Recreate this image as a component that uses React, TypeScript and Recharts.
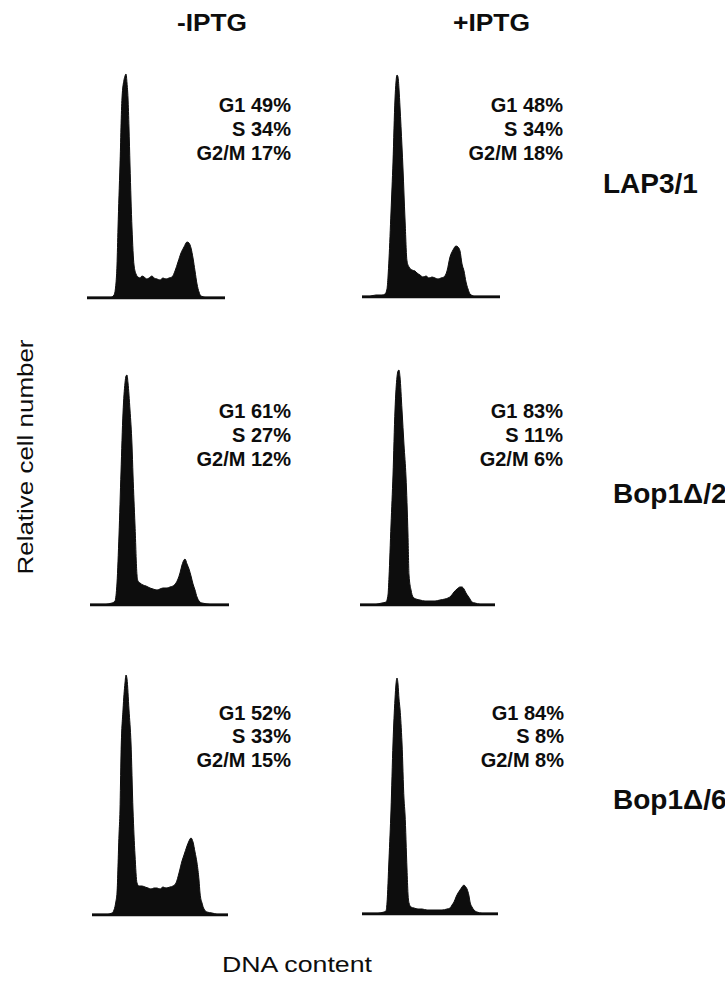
import React from "react";
import { AreaChart, Area, XAxis, YAxis, ReferenceLine } from "recharts";

// ---- labels ----
const columnLabels = ["-IPTG", "+IPTG"];
const rowLabels = ["LAP3/1", "Bop1\u0394/2", "Bop1\u0394/6"];
const phaseNames = ["G1", "S", "G2/M"];
const yAxisTitle = "Relative cell number";
const xAxisTitle = "DNA content";

// ---- cell-cycle percentages (G1, S, G2/M) ----
const lap3MinusPct = [49, 34, 17];
const lap3PlusPct = [48, 34, 18];
const bop2MinusPct = [61, 27, 12];
const bop2PlusPct = [83, 11, 6];
const bop6MinusPct = [52, 33, 15];
const bop6PlusPct = [84, 8, 8];

// ---- histograms: [DNA content channel, relative cell number] ----
const lap3MinusHist: [number, number][] = [
  [0, 1], [8, 1], [16, 1], [24, 1], [27, 3], [29, 15], [30, 33], [31, 70], [33, 133],
  [35, 200], [37, 218], [38, 222], [39, 224], [40, 215], [41, 200], [42, 170], [43, 133],
  [45, 70], [47, 33], [49, 24], [51, 21], [53, 20], [55, 22], [57, 21], [60, 19], [62, 20],
  [65, 22], [67, 20], [70, 19], [73, 18], [76, 20], [79, 19], [82, 20], [85, 21], [88, 27],
  [91, 36], [94, 45], [97, 51], [100, 56], [102, 55], [104, 50], [106, 40], [108, 27],
  [110, 14], [112, 6], [114, 2], [118, 1], [126, 1], [138, 1],
];
const lap3PlusHist: [number, number][] = [
  [0, 1], [8, 1], [14, 2], [20, 2], [23, 3], [25, 8], [26, 20], [27, 38], [29, 85],
  [31, 135], [33, 198], [34, 215], [35, 222], [36, 220], [37, 208], [38, 190], [40, 150],
  [41, 128], [43, 78], [45, 36], [47, 30], [50, 27], [53, 26], [55, 24], [58, 22], [61, 20],
  [64, 21], [67, 19], [70, 20], [73, 19], [76, 18], [79, 19], [82, 20], [85, 26], [88, 40],
  [91, 47], [94, 51], [96, 50], [98, 46], [100, 33], [102, 26], [104, 15], [106, 8],
  [108, 3], [112, 1], [120, 1], [130, 1], [138, 1],
];
const bop2MinusHist: [number, number][] = [
  [0, 1], [8, 1], [16, 1], [22, 2], [25, 4], [27, 22], [29, 70], [31, 133], [33, 192],
  [35, 222], [36, 229], [37, 230], [38, 222], [40, 195], [42, 160], [43, 130], [45, 80],
  [47, 30], [48, 24], [50, 22], [53, 20], [56, 19], [60, 17], [63, 16], [67, 15], [70, 16],
  [73, 17], [77, 17], [80, 18], [83, 19], [86, 22], [88, 26], [90, 32], [92, 40], [94, 45],
  [95, 46], [97, 41], [99, 36], [101, 29], [103, 21], [105, 15], [107, 8], [109, 4],
  [112, 2], [120, 1], [130, 1], [139, 1],
];
const bop2PlusHist: [number, number][] = [
  [0, 1], [8, 1], [16, 1], [22, 2], [26, 3], [28, 10], [29, 28], [31, 80], [33, 130],
  [35, 195], [37, 228], [38, 234], [39, 235], [40, 228], [42, 195], [44, 160], [46, 128],
  [48, 70], [49, 30], [51, 15], [53, 8], [56, 6], [60, 5], [65, 4], [70, 4], [75, 4],
  [80, 5], [85, 6], [88, 7], [91, 9], [94, 13], [97, 16], [100, 18], [102, 18], [104, 16],
  [106, 12], [108, 9], [110, 6], [112, 3], [115, 2], [120, 1], [128, 1], [135, 1],
];
const bop6MinusHist: [number, number][] = [
  [0, 1], [8, 1], [16, 1], [20, 2], [22, 5], [24, 14], [25, 22], [27, 80], [28, 105],
  [29, 160], [31, 205], [33, 232], [34, 240], [35, 236], [37, 205], [39, 172], [41, 105],
  [43, 60], [45, 32], [47, 29], [50, 29], [53, 28], [56, 27], [59, 26], [62, 27], [65, 27],
  [68, 26], [71, 28], [74, 27], [78, 28], [81, 29], [84, 32], [87, 42], [90, 54], [92, 60],
  [95, 69], [97, 74], [99, 77], [101, 73], [103, 63], [105, 52], [107, 35], [108, 22],
  [110, 12], [112, 6], [115, 3], [120, 2], [125, 1], [132, 1], [136, 1],
];
const bop6PlusHist: [number, number][] = [
  [0, 1], [8, 1], [16, 1], [22, 2], [24, 3], [25, 11], [27, 55], [29, 104], [31, 171],
  [33, 215], [34, 230], [35, 236], [36, 230], [37, 215], [38, 205], [40, 171], [42, 115],
  [43, 100], [45, 45], [46, 20], [47, 11], [49, 7], [52, 6], [56, 5], [60, 5], [65, 4],
  [70, 4], [75, 4], [80, 4], [85, 5], [88, 6], [90, 9], [92, 12], [94, 17], [96, 21],
  [98, 24], [100, 27], [102, 29], [103, 28], [105, 25], [107, 18], [108, 12], [110, 7],
  [112, 4], [115, 2], [120, 1], [130, 1], [136, 1],
];

const FONT = '"Liberation Sans", Arial, Helvetica, sans-serif';
const INK = "#0d0d0d";
const Y_MAX = 240;
const M_TOP = 4;
const M_BOTTOM = 3;

type PanelSpec = {
  hist: [number, number][];
  pct: number[];
  left: number; // px of baseline start
  baseline: number; // px y of baseline
  textRight: number;
  textBase: number[];
};

const panels: PanelSpec[] = [
  { hist: lap3MinusHist, pct: lap3MinusPct, left: 87, baseline: 298, textRight: 291, textBase: [112, 136, 160] },
  { hist: lap3PlusHist, pct: lap3PlusPct, left: 362, baseline: 297, textRight: 563, textBase: [112, 136, 160] },
  { hist: bop2MinusHist, pct: bop2MinusPct, left: 90, baseline: 605, textRight: 291, textBase: [418, 442, 466] },
  { hist: bop2PlusHist, pct: bop2PlusPct, left: 360, baseline: 605, textRight: 563, textBase: [418, 442, 466] },
  { hist: bop6MinusHist, pct: bop6MinusPct, left: 92, baseline: 915, textRight: 291, textBase: [720, 743, 767] },
  { hist: bop6PlusHist, pct: bop6PlusPct, left: 362, baseline: 914, textRight: 564, textBase: [720, 743, 767] },
];

function Histogram({ hist }: { hist: [number, number][] }) {
  const rows = hist.map(([ch, n]) => ({ ch, n }));
  const maxCh = hist[hist.length - 1][0];
  return (
    <AreaChart
      width={maxCh}
      height={Y_MAX + M_TOP + M_BOTTOM}
      data={rows}
      margin={{ top: M_TOP, right: 0, bottom: M_BOTTOM, left: 0 }}
    >
      <XAxis dataKey="ch" type="number" domain={[0, maxCh]} hide />
      <YAxis type="number" domain={[0, Y_MAX]} hide allowDataOverflow />
      <Area
        type="monotone"
        dataKey="n"
        stroke={INK}
        strokeWidth={1}
        fill={INK}
        fillOpacity={1}
        dot={false}
        activeDot={false}
        isAnimationActive={false}
      />
      <ReferenceLine y={0} stroke={INK} strokeWidth={2.5} />
    </AreaChart>
  );
}

export default function App() {
  return (
    <div
      style={{
        position: "absolute",
        left: 0,
        top: 0,
        width: 725,
        height: 982,
        background: "#fff",
        overflow: "hidden",
      }}
    >
      {panels.map((p, i) => (
        <div
          key={"h" + i}
          style={{ position: "absolute", left: p.left, top: p.baseline - Y_MAX - M_TOP }}
        >
          <Histogram hist={p.hist} />
        </div>
      ))}
      <svg
        width={725}
        height={982}
        style={{ position: "absolute", left: 0, top: 0, pointerEvents: "none" }}
        fontFamily={FONT}
      >
        <text x={177} y={31} fontSize={24} fontWeight="bold" fill={INK} textLength={70} lengthAdjust="spacingAndGlyphs">
          {columnLabels[0]}
        </text>
        <text x={453} y={31} fontSize={24} fontWeight="bold" fill={INK} textLength={77} lengthAdjust="spacingAndGlyphs">
          {columnLabels[1]}
        </text>
        {panels.map((p, i) =>
          phaseNames.map((ph, j) => (
            <text
              key={"t" + i + "-" + j}
              x={p.textRight}
              y={p.textBase[j]}
              fontSize={20}
              fontWeight="bold"
              textAnchor="end"
              fill={INK}
            >
              {ph + " " + p.pct[j] + "%"}
            </text>
          ))
        )}
        <text x={603} y={193} fontSize={28} fontWeight="bold" fill={INK}>
          {rowLabels[0]}
        </text>
        <text x={613} y={503} fontSize={28} fontWeight="bold" fill={INK}>
          {rowLabels[1]}
        </text>
        <text x={613} y={809} fontSize={28} fontWeight="bold" fill={INK}>
          {rowLabels[2]}
        </text>
        <text
          x={33}
          y={457}
          fontSize={22}
          fill={INK}
          textAnchor="middle"
          transform="rotate(-90 33 457)"
          textLength={235}
          lengthAdjust="spacingAndGlyphs"
        >
          {yAxisTitle}
        </text>
        <text x={222} y={972} fontSize={22} fill={INK} textLength={150} lengthAdjust="spacingAndGlyphs">
          {xAxisTitle}
        </text>
      </svg>
    </div>
  );
}
